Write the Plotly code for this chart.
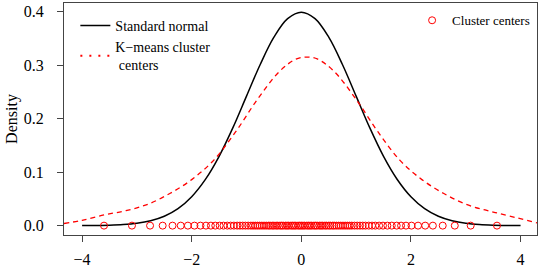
import plotly.graph_objects as go

# Standard normal density
norm_x = [-4.0, -3.75, -3.5, -3.25, -3.0, -2.75, -2.5, -2.25, -2.0, -1.75, -1.5, -1.25, -1.0, -0.75, -0.5, -0.25,
          0.0, 0.25, 0.5, 0.75, 1.0, 1.25, 1.5, 1.75, 2.0, 2.25, 2.5, 2.75, 3.0, 3.25, 3.5, 3.75, 4.0]
norm_y = [0.0001, 0.0004, 0.0009, 0.0020, 0.0044, 0.0091, 0.0175, 0.0317, 0.0540, 0.0863, 0.1295, 0.1826, 0.2420,
          0.3011, 0.3521, 0.3867, 0.3989, 0.3867, 0.3521, 0.3011, 0.2420, 0.1826, 0.1295, 0.0863, 0.0540, 0.0317,
          0.0175, 0.0091, 0.0044, 0.0020, 0.0009, 0.0004, 0.0001]

# K-means cluster centers density
km_x = [-4.33, -4.0, -3.6, -3.2, -2.8, -2.4, -2.0, -1.6, -1.2, -0.8, -0.4, -0.1, 0.1, 0.3, 0.6, 1.0, 1.4, 1.8,
        2.2, 2.6, 3.0, 3.4, 3.8, 4.3]
km_y = [0.004, 0.010, 0.020, 0.028, 0.040, 0.060, 0.086, 0.122, 0.175, 0.236, 0.288, 0.311, 0.315, 0.311, 0.288,
        0.236, 0.175, 0.122, 0.086, 0.060, 0.040, 0.028, 0.018, 0.005]

# Cluster centers
centers = [-3.60, -3.09, -2.76, -2.53, -2.35, -2.20, -2.07, -1.95, -1.84, -1.74, -1.65, -1.57, -1.49, -1.42, -1.35,
           -1.29, -1.23, -1.17, -1.12, -1.07, -1.02, -0.97, -0.92, -0.88, -0.84, -0.80, -0.76, -0.72, -0.68, -0.64,
           -0.60, -0.57, -0.53, -0.50, -0.46, -0.43, -0.39, -0.36, -0.33, -0.29, -0.26, -0.23, -0.19, -0.16, -0.13,
           -0.10, -0.06, -0.03, 0.00, 0.03, 0.06, 0.10, 0.13, 0.16, 0.19, 0.23, 0.26, 0.29, 0.33, 0.36, 0.39, 0.43,
           0.46, 0.50, 0.53, 0.57, 0.60, 0.64, 0.68, 0.72, 0.76, 0.80, 0.84, 0.88, 0.92, 0.97, 1.02, 1.07, 1.12,
           1.17, 1.23, 1.29, 1.35, 1.42, 1.49, 1.57, 1.65, 1.74, 1.82, 1.91, 2.01, 2.13, 2.26, 2.40, 2.58, 2.80,
           3.09, 3.57]
center_y = [0.0] * len(centers)

x_ticks = [-4, -2, 0, 2, 4]
y_ticks = [0.0, 0.1, 0.2, 0.3, 0.4]

FONT = "Liberation Serif"

fig = go.Figure()
fig.add_trace(go.Scatter(x=norm_x, y=norm_y, mode="lines", line=dict(color="black", width=1.5, shape="spline"),
                         name="Standard normal", legend="legend"))
fig.add_trace(go.Scatter(x=km_x, y=km_y, mode="lines",
                         line=dict(color="red", width=1.3, dash="5px,4px", shape="spline"),
                         showlegend=False))
fig.add_trace(go.Scatter(x=[None], y=[None], mode="lines", line=dict(color="red", width=2, dash="2px,7px"),
                         name="K\u2212means cluster<br>\u00a0centers", legend="legend"))
fig.add_trace(go.Scatter(x=centers, y=center_y, mode="markers",
                         marker=dict(symbol="circle-open", size=7, color="red", line=dict(width=1, color="red")),
                         name="Cluster centers", legend="legend2"))

fig.update_layout(
    width=540, height=270,
    margin=dict(l=64, r=3, t=2, b=33),
    paper_bgcolor="white", plot_bgcolor="white",
    font=dict(family=FONT, size=16, color="black"),
    legend=dict(x=0.024, y=0.97, xanchor="left", yanchor="top", bgcolor="rgba(0,0,0,0)",
                font=dict(family=FONT, size=14), tracegroupgap=0),
    legend2=dict(x=0.996, y=0.99, xanchor="right", yanchor="top", bgcolor="rgba(0,0,0,0)",
                 font=dict(family=FONT, size=13)),
)
fig.update_xaxes(range=[-4.33, 4.30], tickvals=x_ticks, ticks="outside", ticklen=6, tickcolor="#444",
                 showline=True, linecolor="#444", linewidth=1, mirror=True, showgrid=False, zeroline=False,
                 tickfont=dict(family=FONT, size=16), ticklabelstandoff=4)
fig.update_yaxes(range=[-0.0175, 0.416], tickvals=y_ticks, tickformat=".1f", ticks="outside", ticklen=6,
                 tickcolor="#444", showline=True, linecolor="#444", linewidth=1, mirror=True, showgrid=False,
                 zeroline=False, tickfont=dict(family=FONT, size=16), ticklabelstandoff=10,
                 title=dict(text="Density", font=dict(family=FONT, size=16), standoff=2))

fig.write_html("out.html", config={"displayModeBar": False},
               post_script="document.body.style.margin='0px';")
